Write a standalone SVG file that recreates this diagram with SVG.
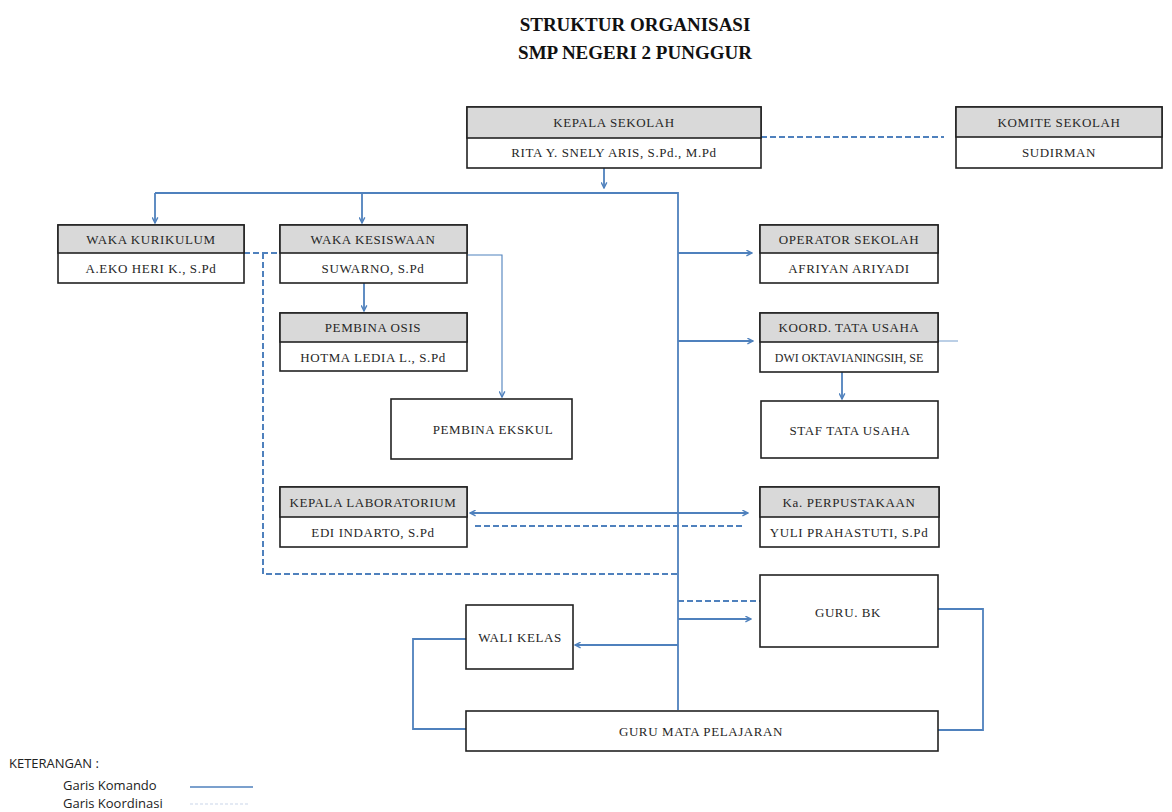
<svg xmlns="http://www.w3.org/2000/svg" width="1172" height="812" viewBox="0 0 1172 812">
<style>
.box{fill:#fff;stroke:#222;stroke-width:1.6}
.hdr{fill:#d9d9d9;stroke:#222;stroke-width:1.6}
.t{font-family:"Liberation Serif","Times New Roman","DejaVu Serif",serif;font-size:13px;fill:#262626;text-anchor:middle;letter-spacing:0.6px}
.ttl{font-family:"Liberation Serif","Times New Roman","DejaVu Serif",serif;font-size:19px;font-weight:bold;fill:#111;text-anchor:middle}
.lg{font-family:"Open Sans","Liberation Sans",sans-serif;font-size:13px;fill:#222}
.cmd{fill:none;stroke:#4f81bd;stroke-width:1.8}
.crd{fill:none;stroke:#4f81bd;stroke-width:2;stroke-dasharray:6,3}
.thin{fill:none;stroke:#4f81bd;stroke-width:1.1}
</style>
<defs>
<marker id="ah" viewBox="0 0 10 10" refX="9" refY="5" markerWidth="7" markerHeight="7" orient="auto-start-reverse" markerUnits="userSpaceOnUse">
<path d="M1,1 L9,5 L1,9" fill="none" stroke="#4f81bd" stroke-width="2"/>
</marker>
</defs>
<rect width="1172" height="812" fill="#fff"/>
<g id="title">
<text class="ttl" x="635" y="31">STRUKTUR ORGANISASI</text>
<text class="ttl" x="635" y="59">SMP NEGERI 2 PUNGGUR</text>
</g>
<g id="connectors">
<line class="crd" x1="761" y1="137" x2="944" y2="137"/>
<line class="cmd" x1="604" y1="168" x2="604" y2="188" marker-end="url(#ah)"/>
<polyline class="cmd" points="155,193 678,193 678,710"/>
<line class="cmd" x1="155" y1="193" x2="155" y2="223" marker-end="url(#ah)"/>
<line class="cmd" x1="362" y1="193" x2="362" y2="223" marker-end="url(#ah)"/>
<line class="crd" x1="244" y1="253" x2="280" y2="253"/>
<polyline class="crd" points="263,253 263,574 678,574"/>
<line class="cmd" x1="364" y1="283" x2="364" y2="311" marker-end="url(#ah)"/>
<polyline class="thin" points="467,255 502,255 502,397" marker-end="url(#ah)"/>
<line class="cmd" x1="678" y1="253" x2="752" y2="253" marker-end="url(#ah)"/>
<line class="cmd" x1="678" y1="341" x2="753" y2="341" marker-end="url(#ah)"/>
<line class="thin" x1="938" y1="341" x2="958" y2="341" stroke-opacity="0.7"/>
<line class="cmd" x1="842" y1="372" x2="842" y2="399" marker-end="url(#ah)"/>
<line class="cmd" x1="470" y1="513" x2="748" y2="513" marker-start="url(#ah)" marker-end="url(#ah)"/>
<line class="crd" x1="475" y1="526" x2="743" y2="526"/>
<line class="crd" x1="678" y1="601" x2="760" y2="601"/>
<line class="cmd" x1="678" y1="619" x2="751" y2="619" marker-end="url(#ah)"/>
<line class="cmd" x1="678" y1="645" x2="575" y2="645" marker-end="url(#ah)"/>
<polyline class="cmd" points="466,639 413,639 413,729 466,729"/>
<polyline class="cmd" points="938,609 983,609 983,730 938,730"/>
</g>
<g id="kepala-sekolah">
<rect class="box" x="467" y="107" width="294" height="61"/>
<rect class="hdr" x="467" y="107" width="294" height="31"/>
<text class="t" x="614" y="127">KEPALA SEKOLAH</text>
<text class="t" x="614" y="157">RITA Y. SNELY ARIS, S.Pd., M.Pd</text>
</g>
<g id="komite-sekolah">
<rect class="box" x="956" y="107" width="206" height="61"/>
<rect class="hdr" x="956" y="107" width="206" height="30"/>
<text class="t" x="1059" y="127">KOMITE SEKOLAH</text>
<text class="t" x="1059" y="157">SUDIRMAN</text>
</g>
<g id="waka-kurikulum">
<rect class="box" x="58" y="225" width="186" height="58"/>
<rect class="hdr" x="58" y="225" width="186" height="28"/>
<text class="t" x="151" y="244">WAKA  KURIKULUM</text>
<text class="t" x="151" y="273">A.EKO HERI K., S.Pd</text>
</g>
<g id="waka-kesiswaan">
<rect class="box" x="280" y="225" width="187" height="58"/>
<rect class="hdr" x="280" y="225" width="187" height="28"/>
<text class="t" x="373" y="244">WAKA KESISWAAN</text>
<text class="t" x="373" y="273">SUWARNO, S.Pd</text>
</g>
<g id="pembina-osis">
<rect class="box" x="280" y="313" width="187" height="58"/>
<rect class="hdr" x="280" y="313" width="187" height="29"/>
<text class="t" x="373" y="332">PEMBINA OSIS</text>
<text class="t" x="373" y="362">HOTMA LEDIA L., S.Pd</text>
</g>
<g id="pembina-ekskul">
<rect class="box" x="391" y="399" width="181" height="60"/>
<text class="t" x="493" y="434">PEMBINA EKSKUL</text>
</g>
<g id="kepala-laboratorium">
<rect class="box" x="280" y="487" width="187" height="60"/>
<rect class="hdr" x="280" y="487" width="187" height="30"/>
<text class="t" x="373" y="507">KEPALA LABORATORIUM</text>
<text class="t" x="373" y="537">EDI INDARTO, S.Pd</text>
</g>
<g id="operator-sekolah">
<rect class="box" x="760" y="225" width="178" height="58"/>
<rect class="hdr" x="760" y="225" width="178" height="28"/>
<text class="t" x="849" y="244">OPERATOR SEKOLAH</text>
<text class="t" x="849" y="273">AFRIYAN ARIYADI</text>
</g>
<g id="koord-tata-usaha">
<rect class="box" x="760" y="313" width="178" height="59"/>
<rect class="hdr" x="760" y="313" width="178" height="29"/>
<text class="t" x="849" y="332">KOORD. TATA USAHA</text>
<text class="t" x="849" y="362" style="font-size:12px;letter-spacing:0px">DWI OKTAVIANINGSIH, SE</text>
</g>
<g id="staf-tata-usaha">
<rect class="box" x="761" y="401" width="177" height="57"/>
<text class="t" x="850" y="435">STAF TATA USAHA</text>
</g>
<g id="ka-perpustakaan">
<rect class="box" x="760" y="487" width="179" height="60"/>
<rect class="hdr" x="760" y="487" width="179" height="30"/>
<text class="t" x="849" y="507">Ka. PERPUSTAKAAN</text>
<text class="t" x="849" y="537">YULI PRAHASTUTI, S.Pd</text>
</g>
<g id="guru-bk">
<rect class="box" x="760" y="575" width="178" height="72"/>
<text class="t" x="848" y="617">GURU. BK</text>
</g>
<g id="wali-kelas">
<rect class="box" x="466" y="605" width="107" height="64"/>
<text class="t" x="520" y="642">WALI KELAS</text>
</g>
<g id="guru-mata-pelajaran">
<rect class="box" x="466" y="711" width="472" height="40"/>
<text class="t" x="701" y="736">GURU MATA PELAJARAN</text>
</g>
<g id="legend">
<text class="lg" x="9" y="768">KETERANGAN :</text>
<text class="lg" x="63" y="790">Garis Komando</text>
<text class="lg" x="63" y="808">Garis Koordinasi</text>
<line x1="190" y1="787" x2="253" y2="787" stroke="#4f81bd" stroke-width="1.6"/>
<line x1="190" y1="804" x2="250" y2="804" stroke="#c9d6ea" stroke-width="1.2" stroke-dasharray="3,2"/>
</g>
</svg>
